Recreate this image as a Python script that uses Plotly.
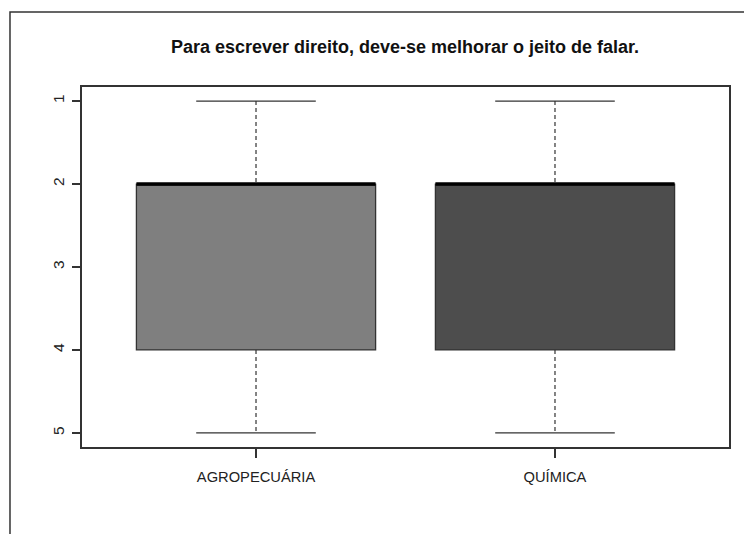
import plotly.graph_objects as go

# Respostas (escala 1-5) resumidas por curso
categories = ["AGROPECUÁRIA", "QUÍMICA"]
mins = [1, 1]
q1 = [2, 2]
medians = [2, 2]
q3 = [4, 4]
maxs = [5, 5]
fills = ["#7f7f7f", "#4d4d4d"]
y_ticks = [1, 2, 3, 4, 5]

line_col = "#333333"
box_w = 0.8
cap_w = box_w / 2

fig = go.Figure()
for i, cat in enumerate(categories):
    # box without whiskers (fences at the quartiles)
    fig.add_trace(go.Box(
        x=[i], q1=[q1[i]], median=[medians[i]], q3=[q3[i]],
        lowerfence=[q1[i]], upperfence=[q3[i]],
        width=box_w, fillcolor=fills[i],
        line=dict(color=line_col, width=1.3),
        whiskerwidth=0, hoverinfo="skip", showlegend=False,
    ))
    # dashed whiskers
    fig.add_trace(go.Scatter(
        x=[i, i, None, i, i], y=[mins[i], q1[i], None, q3[i], maxs[i]],
        mode="lines", line=dict(color=line_col, width=1.2, dash="4px,3px"),
        showlegend=False, hoverinfo="skip",
    ))
    # caps
    fig.add_trace(go.Scatter(
        x=[i - cap_w / 2, i + cap_w / 2, None, i - cap_w / 2, i + cap_w / 2],
        y=[mins[i], mins[i], None, maxs[i], maxs[i]],
        mode="lines", line=dict(color=line_col, width=1.3),
        showlegend=False, hoverinfo="skip",
    ))
    # thick median
    fig.add_trace(go.Scatter(
        x=[i - box_w / 2, i + box_w / 2], y=[medians[i], medians[i]],
        mode="lines", line=dict(color="black", width=3.5),
        showlegend=False, hoverinfo="skip",
    ))

# outer frame of the device region
fig.add_shape(type="rect", xref="paper", yref="paper",
              x0=-0.1113, x1=1.2, y0=-0.4, y1=1.2083,
              line=dict(color=line_col, width=1.5), layer="below")

fig.update_layout(
    width=744, height=526,
    margin=dict(l=74, r=23, t=79, b=87),
    paper_bgcolor="white", plot_bgcolor="white",
    font=dict(family="Liberation Sans, Arial, sans-serif", color="#222222"),
    title=dict(text="<b>Para escrever direito, deve-se melhorar o jeito de falar.</b>",
               x=0.5336, xanchor="center", y=0.9259, yanchor="middle",
               font=dict(size=18, color="#111111")),
    xaxis=dict(range=[-0.582, 1.582], tickvals=list(range(len(categories))),
               ticktext=categories, showgrid=False, zeroline=False,
               showline=True, mirror=True, linecolor=line_col, linewidth=1.5,
               ticks="outside", ticklen=9, tickcolor=line_col, tickwidth=1.5,
               ticklabelstandoff=7, tickfont=dict(size=14.7)),
    yaxis=dict(range=[5.17, 0.83], tickvals=y_ticks, showgrid=False, zeroline=False,
               showline=True, mirror=True, linecolor=line_col, linewidth=1.5,
               ticks="outside", ticklen=8, tickcolor=line_col, tickwidth=1.5,
               tickangle=-90, ticklabelstandoff=2, tickfont=dict(size=15.5)),
)

fig.write_html("out.html")
